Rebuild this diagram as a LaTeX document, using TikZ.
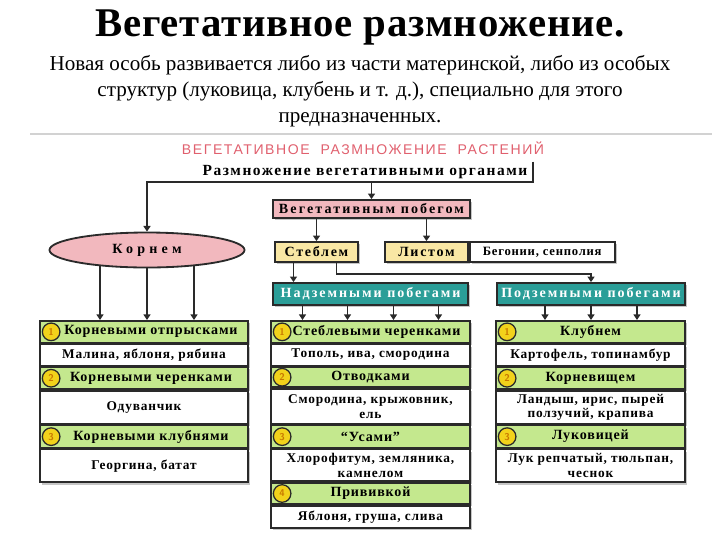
\documentclass[tikz,border=0pt]{standalone}
\usepackage{fontspec}
\setmainfont{Liberation Serif}
\newfontfamily\diafont{Liberation Serif}
\newfontfamily\capsfont[LetterSpace=11]{Liberation Sans}
\usetikzlibrary{arrows.meta,shapes.geometric,positioning,shadows}

\definecolor{dark}{HTML}{2A2A2A}
\definecolor{pinkfill}{HTML}{F2B8BE}
\definecolor{yelfill}{HTML}{F9E7A4}
\definecolor{tealfill}{HTML}{2B9E98}
\definecolor{greenfill}{HTML}{C4E88E}
\definecolor{numfill}{HTML}{F2D21B}
\definecolor{numtext}{HTML}{C87800}
\definecolor{redtext}{HTML}{E0606E}

\tikzset{
  arr/.style={draw=dark, line width=1.3pt, -{Triangle[length=4pt,width=5pt]}},
  shade/.style={drop shadow={shadow xshift=1.6pt, shadow yshift=-1.6pt, fill=gray!45, opacity=1}},
  box/.style={draw=dark, line width=1.2pt, inner sep=1pt, shade,
    font=\diafont\bfseries\fontsize{10}{11}\selectfont\addfontfeature{LetterSpace=12}},
  pinkbox/.style={box, fill=pinkfill,
    font=\diafont\bfseries\fontsize{10}{11}\selectfont\addfontfeature{LetterSpace=15}},
  yelbox/.style={box, fill=yelfill, minimum width=2.075cm, minimum height=0.5cm},
  tealbox/.style={box, fill=tealfill, text=white, minimum height=0.55cm,
    font=\diafont\bfseries\fontsize{10}{11}\selectfont\addfontfeature{LetterSpace=14}},
  head/.style={box, fill=greenfill, minimum height=0.55cm,
    font=\diafont\bfseries\fontsize{10}{11}\selectfont\addfontfeature{LetterSpace=6}},
  item/.style={box, fill=white, align=center,
    font=\diafont\bfseries\fontsize{9.5}{10.5}\selectfont\addfontfeature{LetterSpace=6}},
  num/.style={circle, draw=dark, line width=0.9pt, fill=numfill, text=numtext,
    inner sep=0pt, minimum size=0.44cm, font=\sffamily\bfseries\scriptsize},
  colL/.style={minimum width=5.2cm},
  colM/.style={minimum width=4.975cm},
  colR/.style={minimum width=4.725cm},
}

\begin{document}
\begin{tikzpicture}[x=0.025cm,y=-0.025cm]
  \useasboundingbox (0,0) rectangle (720,540);
  % title and text
  \node (title) at (360,27) {\bfseries\fontsize{29}{32}\selectfont\addfontfeature{LetterSpace=2}Вегетативное размножение.};
  \node[align=center, font=\fontsize{15}{18.6}\selectfont] (sub) at (360,91)
    {Новая особь развивается либо из части материнской, либо из особых\\
     структур (луковица, клубень и т. д.), специально для этого\\
     предназначенных.};
  \draw[gray!35, line width=2pt] (30,134) -- (712,134);

  % scheme
  \node[text=redtext, font=\capsfont\fontsize{10}{11}\selectfont] (rhead) at (363,148)
    {ВЕГЕТАТИВНОЕ\ \ РАЗМНОЖЕНИЕ\ \ РАСТЕНИЙ};
  \node[font=\diafont\bfseries\fontsize{11}{12}\selectfont\addfontfeature{LetterSpace=10}, minimum width=8.4cm,
    minimum height=0.5cm, inner sep=0pt] (org) at (365,172) {Размножение вегетативными органами};
  \node[ellipse, draw=dark, line width=1.3pt, fill=pinkfill, minimum width=4.875cm,
    minimum height=0.875cm, font=\diafont\bfseries\fontsize{10}{11}\selectfont\addfontfeature{LetterSpace=30}]
    (korn) at (147,250) {Корнем};
  \node[pinkbox, minimum width=4.925cm, minimum height=0.45cm] (veg) at (371.5,209) {Вегетативным побегом};
  \node[yelbox] (steb) at (316.5,252) {Стеблем};
  \node[yelbox] (list) at (426.5,252) {Листом};
  \node[box, fill=white, minimum width=3.625cm, minimum height=0.5cm,
    font=\diafont\bfseries\fontsize{9}{10}\selectfont\addfontfeature{LetterSpace=6}, right=0pt of list] (beg) {Бегонии, сенполия};
  \node[tealbox, minimum width=4.875cm] (nad) at (370.5,294) {Надземными побегами};
  \node[tealbox, minimum width=4.7cm] (pod) at (591,294) {Подземными побегами};

  % left column
  \node[head, colL, anchor=north] (L1h) at (144,320) {\hspace*{0.35cm}Корневыми отпрысками};
  \node[item, colL, minimum height=0.525cm, below=0pt of L1h] (L1t) {Малина, яблоня, рябина};
  \node[head, colL, below=0pt of L1t] (L2h) {\hspace*{0.35cm}Корневыми черенками};
  \node[item, colL, minimum height=0.825cm, below=0pt of L2h] (L2t) {Одуванчик};
  \node[head, colL, below=0pt of L2t] (L3h) {\hspace*{0.35cm}Корневыми клубнями};
  \node[item, colL, minimum height=0.825cm, below=0pt of L3h] (L3t) {Георгина, батат};

  % middle column
  \node[head, colM, anchor=north] (M1h) at (370.5,320) {\hspace*{0.3cm}Стеблевыми черенками};
  \node[item, colM, minimum height=0.525cm, below=0pt of M1h] (M1t) {Тополь, ива, смородина};
  \node[head, colM, minimum height=0.5cm, below=0pt of M1t] (M2h) {Отводками};
  \node[item, colM, minimum height=0.875cm, below=0pt of M2h] (M2t) {Смородина, крыжовник,\\ ель};
  \node[head, colM, below=0pt of M2t] (M3h) {“Усами”};
  \node[item, colM, minimum height=0.8cm, below=0pt of M3h] (M3t) {Хлорофитум, земляника,\\ камнелом};
  \node[head, colM, minimum height=0.525cm, below=0pt of M3t] (M4h) {Прививкой};
  \node[item, colM, minimum height=0.55cm, below=0pt of M4h] (M4t) {Яблоня, груша, слива};

  % right column
  \node[head, colR, anchor=north] (R1h) at (590.5,320) {Клубнем};
  \node[item, colR, minimum height=0.525cm, below=0pt of R1h] (R1t) {Картофель, топинамбур};
  \node[head, colR, below=0pt of R1t] (R2h) {Корневищем};
  \node[item, colR, minimum height=0.825cm, below=0pt of R2h] (R2t) {Ландыш, ирис, пырей\\ ползучий, крапива};
  \node[head, colR, below=0pt of R2t] (R3h) {Луковицей};
  \node[item, colR, minimum height=0.825cm, below=0pt of R3h] (R3t) {Лук репчатый, тюльпан,\\ чеснок};

  % numbers
  \foreach \n/\i in {L1h/1,L2h/2,L3h/3,M1h/1,M2h/2,M3h/3,M4h/4,R1h/1,R2h/2,R3h/3}
    \node[num] (n-\n) at ([xshift=0.3cm]\n.west) {\i};

  % connectors
  \draw[arr] (org.north east) -- (org.south east) -- (org.south -| korn.north) -- (korn.north);
  \draw[arr] (org.south -| veg.north) -- (veg.north);
  \draw[arr] (veg.south -| steb.north) -- (steb.north);
  \draw[arr] (veg.south -| list.north) -- (list.north);
  \draw[arr] ([xshift=-0.575cm]steb.south) -- ([xshift=-0.575cm]steb.south |- nad.north);
  \draw[arr] ([xshift=0.5cm]steb.south) -- ++(0,11) -| (pod.north);
  \draw[arr] (korn.199) -- (korn.199 |- L1h.north);
  \draw[arr] (korn.south) -- (korn.south |- L1h.north);
  \draw[arr] (korn.341) -- (korn.341 |- L1h.north);
  \foreach \dx in {-68,-23,23,68}
    \draw[arr] ([shift={(\dx,0)}]nad.south) -- ([shift={(\dx,0)}]nad.south |- M1h.north);
  \foreach \dx in {-46,0,46}
    \draw[arr] ([shift={(\dx,0)}]pod.south) -- ([shift={(\dx,0)}]pod.south |- R1h.north);
\end{tikzpicture}
\end{document}
